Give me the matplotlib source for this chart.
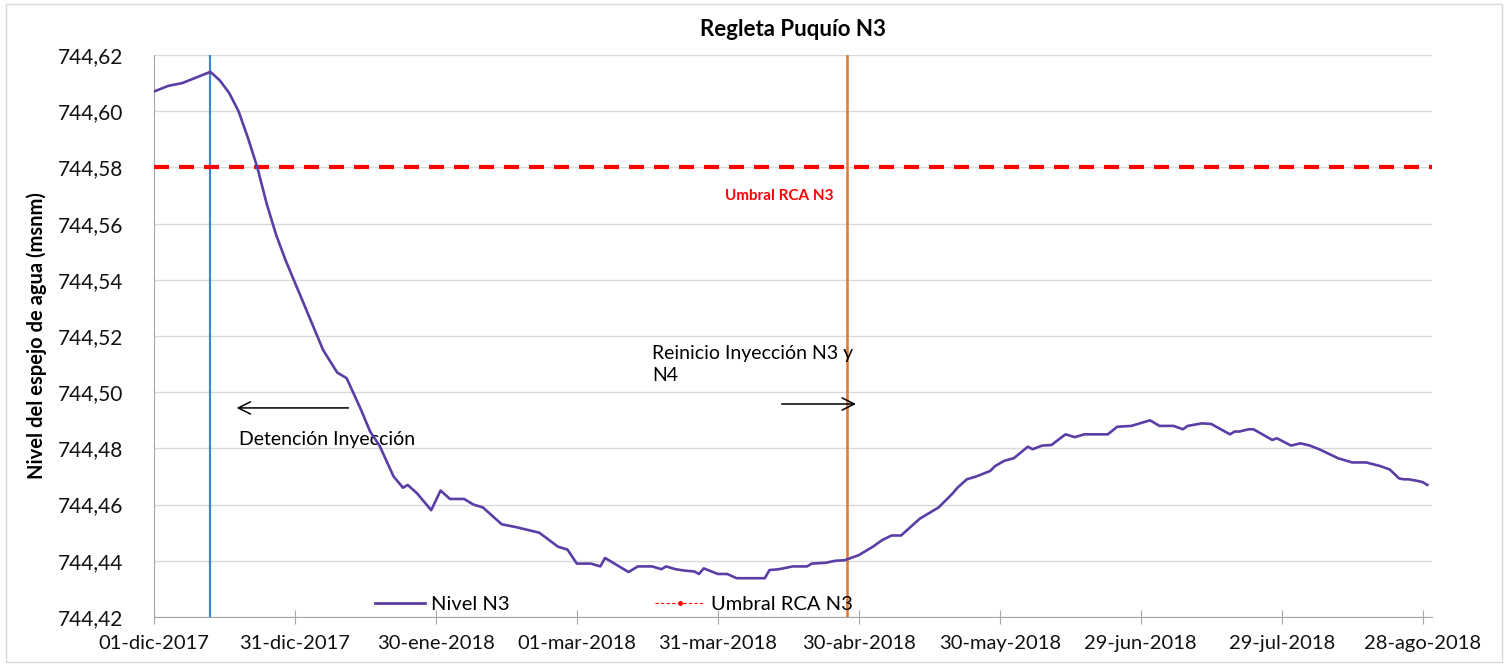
import numpy as np
import matplotlib
matplotlib.use("Agg")
import matplotlib.pyplot as plt
from matplotlib.lines import Line2D
from matplotlib.patches import Rectangle
from matplotlib.ticker import FuncFormatter

plt.rcParams["font.family"] = ["Lato", "DejaVu Sans"]

START = np.datetime64("2017-12-01")

# days since 01-dic-2017 and level (msnm)
DAYS = [0, 3, 6, 9, 12, 14, 16, 18, 20, 22, 24, 26, 28, 30, 32, 34, 36, 39,
        41, 44, 46, 48, 51, 53, 54, 56, 59, 61, 63, 66, 68, 70, 74, 77, 82,
        86, 88, 90, 93, 95, 96, 101, 103, 106, 108, 109, 111, 113, 115, 116,
        117, 120, 122, 124, 130, 131, 133, 136, 139, 140, 143, 145, 147, 150,
        153, 155, 157, 159, 161, 163, 167, 170, 171, 173, 175, 178, 179, 181,
        183, 186, 187, 189, 191, 194, 196, 198, 203, 205, 208, 212, 214, 217,
        219, 220, 223, 225, 229, 230, 231, 233, 234, 238, 239, 242, 244, 246,
        248, 252, 255, 258, 261, 263, 265, 266, 267, 269, 270, 271]
NIVEL_N3 = [744.607, 744.609, 744.610, 744.612, 744.614, 744.611, 744.6065,
            744.600, 744.5905, 744.580, 744.567, 744.556, 744.547, 744.539,
            744.531, 744.523, 744.515, 744.507, 744.505, 744.494, 744.486,
            744.481, 744.470, 744.466, 744.467, 744.464, 744.458, 744.465,
            744.462, 744.462, 744.460, 744.459, 744.453, 744.452, 744.450,
            744.445, 744.444, 744.439, 744.439, 744.438, 744.441, 744.436,
            744.438, 744.438, 744.437, 744.438, 744.437, 744.4365, 744.4362,
            744.4353, 744.4373, 744.4353, 744.4353, 744.4338, 744.4338,
            744.4367, 744.437, 744.438, 744.438, 744.439, 744.4393, 744.440,
            744.4402, 744.442, 744.445, 744.4474, 744.449, 744.449, 744.452,
            744.455, 744.459, 744.464, 744.466, 744.469, 744.470, 744.472,
            744.4737, 744.4756, 744.4765, 744.4806, 744.4797, 744.481,
            744.4812, 744.485, 744.484, 744.485, 744.485, 744.4877, 744.488,
            744.490, 744.488, 744.488, 744.4868, 744.488, 744.4889, 744.4887,
            744.485, 744.486, 744.486, 744.4868, 744.4868, 744.483, 744.4836,
            744.481, 744.4818, 744.481, 744.4797, 744.4765, 744.475, 744.475,
            744.4737, 744.4725, 744.4693, 744.469, 744.469, 744.4684, 744.468,
            744.467]

UMBRAL_RCA = 744.58
DETENCION = np.datetime64("2017-12-13")
REINICIO = np.datetime64("2018-04-27T12")
X_END = np.datetime64("2018-08-30")

TICK_DATES = [START + np.timedelta64(30 * k, "D") for k in range(10)]
TICK_LABELS = ["01-dic-2017", "31-dic-2017", "30-ene-2018", "01-mar-2018",
               "31-mar-2018", "30-abr-2018", "30-may-2018", "29-jun-2018",
               "29-jul-2018", "28-ago-2018"]
Y_TICKS = [744.42, 744.44, 744.46, 744.48, 744.50, 744.52, 744.54, 744.56,
           744.58, 744.60, 744.62]

dates = START + np.array(DAYS).astype("timedelta64[D]")

fig = plt.figure(figsize=(15.08, 6.66), dpi=100)
fig.patches.append(Rectangle((0.004, 0.006), 0.992, 0.988, transform=fig.transFigure,
                             fill=False, edgecolor="#d9d9d9", linewidth=1))
ax = fig.add_axes([0.1021, 0.0736, 0.8475, 0.8438])

ax.plot(dates, NIVEL_N3, color="#5a3ea6", linewidth=1.9, zorder=4)
ax.axhline(UMBRAL_RCA, color="#ff0000", linewidth=3, dashes=(3.6, 2.4), zorder=3)
ax.axvline(DETENCION, color="#3f87cc", linewidth=1.6, zorder=2)
ax.axvline(REINICIO, color="#e0782f", linewidth=1.8, zorder=2)

ax.set_xlim(START, X_END)
ax.set_ylim(744.42, 744.62)
ax.set_yticks(Y_TICKS)
ax.yaxis.set_major_formatter(FuncFormatter(lambda v, p: f"{v:.2f}".replace(".", ",")))
ax.set_xticks(TICK_DATES)
ax.set_xticklabels(TICK_LABELS)

ax.grid(axis="y", color="#d9d9d9", linewidth=1)
ax.set_axisbelow(True)
for side in ["top", "right"]:
    ax.spines[side].set_visible(False)
for side in ["left", "bottom"]:
    ax.spines[side].set_color("#a6a6a6")
ax.tick_params(axis="y", length=0, labelsize=15, pad=22, labelcolor="#111111")
ax.tick_params(axis="x", direction="inout", length=10, color="#a6a6a6",
               labelsize=14.5, pad=8, labelcolor="#111111")

ax.set_title("Regleta Puquío N3", fontsize=16, fontweight="bold", pad=14)
ax.set_ylabel("Nivel del espejo de agua (msnm)", fontsize=14.5, fontweight="bold", labelpad=8)

# annotations
d0 = START
ax.annotate("", xy=(d0 + np.timedelta64(17, "D"), 744.4944),
            xytext=(d0 + np.timedelta64(42, "D"), 744.4944),
            arrowprops=dict(arrowstyle="->", color="black", lw=1.1, mutation_scale=22))
ax.text(d0 + np.timedelta64(18, "D"), 744.483, "Detención Inyección",
        fontsize=14, va="center", ha="left")
ax.annotate("", xy=(d0 + np.timedelta64(150, "D"), 744.4958),
            xytext=(d0 + np.timedelta64(133, "D"), 744.4958),
            arrowprops=dict(arrowstyle="->", color="black", lw=1.1, mutation_scale=22))
ax.text(d0 + np.timedelta64(106, "D"), 744.5097, "Reinicio Inyección N3 y\nN4",
        fontsize=14, va="center", ha="left", linespacing=1.35)
ax.text(d0 + np.timedelta64(133, "D"), 744.5698, "Umbral RCA N3",
        fontsize=11, fontweight="bold", color="#ff0000", ha="center", va="center")

handles = [Line2D([], [], color="#5a3ea6", linewidth=2),
           Line2D([], [], color="#ff0000", linewidth=0.8, linestyle=(0, (3, 2)),
                  marker="o", markersize=2.5)]
ax.legend(handles, ["Nivel N3", "Umbral RCA N3"], ncol=2, loc="center",
          bbox_to_anchor=(0.36, 0.022), frameon=False, fontsize=14.5,
          columnspacing=7.2, handlelength=2.5, handletextpad=0.3)

fig.savefig("out.png", dpi=100)
